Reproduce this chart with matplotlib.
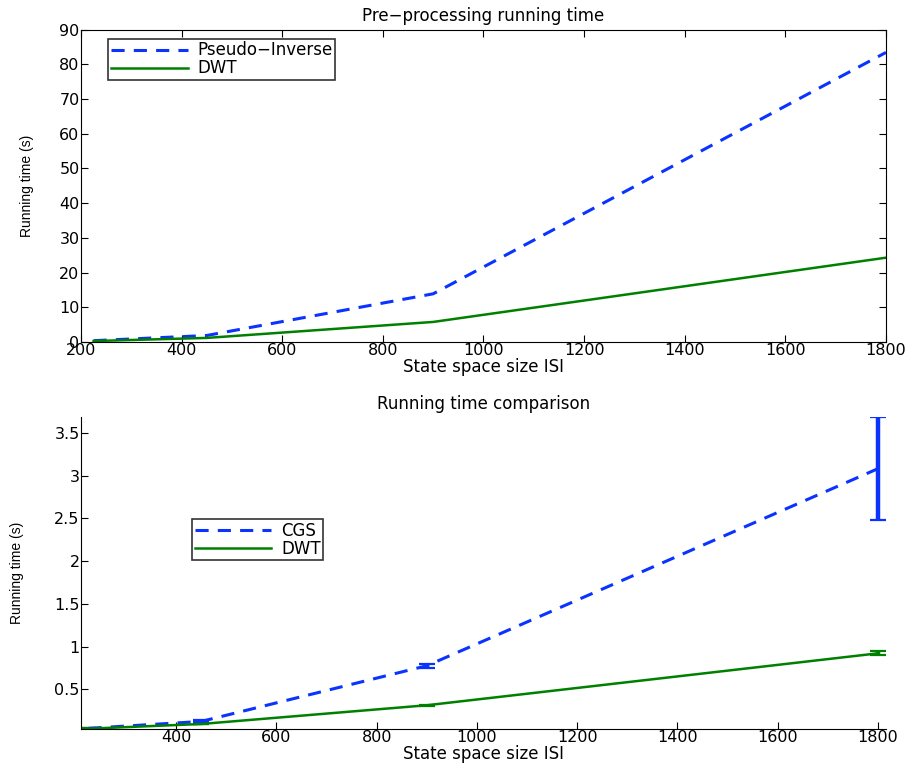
import numpy as np
import matplotlib
matplotlib.use("Agg")
import matplotlib.pyplot as plt

plt.rcParams['font.family'] = ['DejaVu Sans']

# tamanos del espacio de estados
n_estados = [225, 450, 900, 1800]

# tiempos de pre-procesamiento (s)
pre_pinv = [0.4, 1.9, 13.9, 83.4]
pre_dwt = [0.3, 1.2, 5.8, 24.3]

# tiempos de ejecucion (s) y sus desviaciones
cgs = [0.044, 0.125, 0.776, 3.08]
cgs_err = [0.004, 0.012, 0.025, 0.605]
dwt = [0.040, 0.095, 0.314, 0.921]
dwt_err = [0.003, 0.005, 0.008, 0.022]

azul = '#0a33ff'
verde = '#008000'
fs = 12
fst = 11.5
yfont = dict(fontsize=10, family=['Liberation Sans Narrow', 'Liberation Sans'])

fig = plt.figure(figsize=(9.16, 7.67), dpi=100)

# Grafico superior
ax1 = fig.add_axes([0.0884, 0.554, 0.8788, 0.4075])
ax1.plot(n_estados, pre_pinv, color=azul, lw=2.2, dashes=(4.3, 3.0), label='Pseudo\u2212Inverse')
ax1.plot(n_estados, pre_dwt, color=verde, lw=1.8, label='DWT')
ax1.set_xlim(200, 1800)
ax1.set_ylim(0, 90)
ax1.set_xticks(np.arange(200, 1801, 200))
ax1.set_yticks(np.arange(0, 91, 10))
ax1.tick_params(direction='in', top=True, right=True, labelsize=fst, length=5, pad=1)
ax1.set_title('Pre\u2212processing running time', fontsize=fs, pad=6)
ax1.set_xlabel('State space size ISI', fontsize=fs, labelpad=0)
ax1.set_ylabel('Running time (s)', labelpad=18, **yfont)
leg1 = ax1.legend(loc='upper left', bbox_to_anchor=(0.034, 0.97), fontsize=fs,
                  fancybox=False, edgecolor='black', handlelength=4.6,
                  borderpad=0.15, labelspacing=0.0, handletextpad=0.6, borderaxespad=0)
leg1.get_frame().set_linewidth(1.2)

# Grafico inferior
ax2 = fig.add_axes([0.0884, 0.0495, 0.8788, 0.4068])
ax2.errorbar(n_estados, cgs, yerr=cgs_err, color=azul, lw=2.2, dashes=(4.3, 3.0),
             elinewidth=3.2, capsize=5.8, capthick=1.6, label='CGS')
ax2.errorbar(n_estados, dwt, yerr=dwt_err, color=verde, lw=1.8,
             elinewidth=3.2, capsize=5.8, capthick=1.6, label='DWT')
ax2.set_xlim(210, 1816)
ax2.set_ylim(0.036, 3.684)
ax2.set_xticks(np.arange(400, 1801, 200))
ax2.set_yticks([0.5, 1, 1.5, 2, 2.5, 3, 3.5])
ax2.set_yticklabels(['0.5', '1', '1.5', '2', '2.5', '3', '3.5'])
ax2.spines['top'].set_visible(False)
ax2.spines['right'].set_visible(False)
ax2.tick_params(direction='in', labelsize=fst, length=5, pad=1)
ax2.set_title('Running time comparison', fontsize=fs, pad=6)
ax2.set_xlabel('State space size ISI', fontsize=fs, labelpad=0)
ax2.set_ylabel('Running time (s)', labelpad=22, **yfont)
h, l = ax2.get_legend_handles_labels()
h = [x[0] for x in h]
leg2 = ax2.legend(h, l, loc='upper left', bbox_to_anchor=(0.138, 0.673), fontsize=fs,
                  fancybox=False, edgecolor='black', handlelength=4.6,
                  borderpad=0.15, labelspacing=0.0, handletextpad=0.6, borderaxespad=0)
leg2.get_frame().set_linewidth(1.2)

plt.savefig('out.png', dpi=100)
plt.close()
